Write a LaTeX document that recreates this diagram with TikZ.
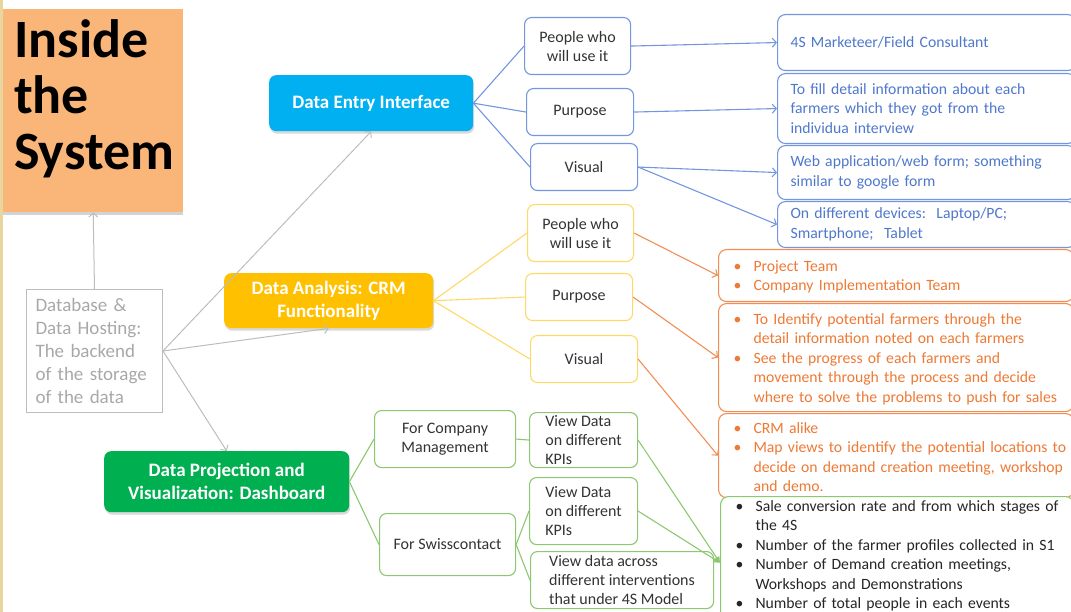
\documentclass[tikz,border=0pt]{standalone}
\usepackage{fontspec}
\setmainfont{Carlito}
\usetikzlibrary{arrows.meta,shadows}
\definecolor{strip}{HTML}{E9D59E}
\definecolor{titleor}{HTML}{FAB679}
\definecolor{cyanb}{HTML}{00B0F0}
\definecolor{yelb}{HTML}{FFC000}
\definecolor{greenb}{HTML}{00B050}
\definecolor{grayl}{HTML}{BDBDBD}
\definecolor{grayt}{HTML}{A8A8A8}
\definecolor{bluel}{HTML}{7396DE}
\definecolor{bluet}{HTML}{4F78CC}
\definecolor{yell}{HTML}{FFD966}
\definecolor{orl}{HTML}{F28E55}
\definecolor{ort}{HTML}{EE7A35}
\definecolor{grel}{HTML}{8CC870}
\definecolor{txt}{HTML}{333333}
\newcommand\bul[2][20pt]{\par\noindent\hangindent=#1\hangafter=1\makebox[#1][l]{\textbullet}#2\par}
\newcommand\raiseby{\vspace*{6pt}}
\hfuzz=400pt
\hbadness=10000
\tikzset{
  main/.style={rounded corners=7pt, text=white, align=center, anchor=north west,
    font=\fontsize{19}{23}\selectfont\bfseries, inner sep=0pt,
    drop shadow={shadow xshift=1pt, shadow yshift=-2.5pt, opacity=0.3}},
  lvtwo/.style={draw, rounded corners=7pt, fill=white, line width=1.1pt, align=center,
    anchor=north west, inner sep=0pt, text=txt, font=\fontsize{16}{19}\selectfont},
  lvleft/.style={lvtwo, align=left},
  rbox/.style={draw, rounded corners=8pt, fill=white, line width=1.1pt, align=left,
    anchor=north west, inner ysep=0pt, font=\fontsize{15.7}{19.5}\selectfont},
  gline/.style={draw=grayl, line width=1pt},
  garrow/.style={gline, -{Straight Barb[length=4pt,width=9pt]}},
  bline/.style={draw=bluel, line width=1.1pt},
  barrow/.style={bline, -{Straight Barb[length=4pt,width=9pt]}},
  yline/.style={draw=yell, line width=1.1pt},
  oarrow/.style={draw=orl, line width=1.1pt, -{Straight Barb[length=4pt,width=9pt]}},
  grline/.style={draw=grel, line width=1.1pt},
  grarrow/.style={grline, -{Triangle[length=6pt,width=6pt]}},
}
\begin{document}
\begin{tikzpicture}[x=1pt,y=-1pt]
\useasboundingbox (0,0) rectangle (1071,612);
\clip (0,0) rectangle (1071,612);
\fill[strip] (0,0) rectangle (2.5,612);

% title
\node[fill=titleor, anchor=north west, minimum width=180pt, minimum height=203pt, inner sep=0pt,
  drop shadow={shadow xshift=0pt, shadow yshift=-3pt, opacity=0.35}] (title) at (3,9) {};
\node[anchor=base west, align=left, inner sep=0pt, font=\fontsize{54}{56}\selectfont\bfseries] (titletext) at (14,170) {Inside\\the\\System};

% database
\node[draw=grayl, line width=1pt, anchor=north west, text width=118pt, inner xsep=9pt, inner ysep=0pt,
  minimum height=123pt, align=left, text=grayt, font=\fontsize{19}{23}\selectfont] (db) at (26,289)
  {Database \&\\Data Hosting:\\The backend\\of the storage\\of the data};

% main nodes
\node[main, fill=cyanb, minimum width=204pt, minimum height=56pt] (dei) at (269,75) {Data Entry Interface};
\node[main, fill=yelb, minimum width=209pt, minimum height=55pt] (da) at (224,273) {Data Analysis: CRM\\Functionality};
\node[main, fill=greenb, minimum width=245pt, minimum height=61pt] (dp) at (104,451) {Data Projection and\\Visualization: Dashboard};

% blue level 2
\node[lvtwo, draw=bluel, minimum width=106pt, minimum height=57pt] (bp) at (524,17) {People who\\will use it};
\node[lvtwo, draw=bluel, minimum width=107pt, minimum height=47pt] (bpu) at (526,88) {Purpose};
\node[lvtwo, draw=bluel, minimum width=107pt, minimum height=47pt] (bv) at (530,143) {Visual};
% yellow level 2
\node[lvtwo, draw=yell, minimum width=106pt, minimum height=57pt] (yp) at (527,204) {People who\\will use it};
\node[lvtwo, draw=yell, minimum width=107pt, minimum height=47pt] (ypu) at (525,273) {Purpose};
\node[lvtwo, draw=yell, minimum width=107pt, minimum height=47pt] (yv) at (530,335) {Visual};
% green level 2/3
\node[lvtwo, draw=grel, minimum width=141pt, minimum height=57pt] (gcm) at (374,410) {For Company\\Management};
\node[lvtwo, draw=grel, minimum width=136pt, minimum height=62pt] (gsc) at (379,513) {For Swisscontact};
\node[lvleft, draw=grel, minimum width=108pt, minimum height=55pt] (gv1) at (529,412) {View Data\\on different\\KPIs};
\node[lvleft, draw=grel, minimum width=108pt, minimum height=67pt] (gv2) at (529,477) {View Data\\on different\\KPIs};
\node[lvleft, draw=grel, minimum width=183pt, minimum height=57pt] (gva) at (530,551) {View data across\\different interventions\\that under 4S Model};

% blue right boxes
\node[rbox, draw=bluel, text=bluet, text width=272pt, inner xsep=13pt, minimum height=56pt] (b1) at (777,14) {4S Marketeer/Field Consultant};
\node[rbox, draw=bluel, text=bluet, text width=272pt, inner xsep=13pt, minimum height=70pt] (b2) at (777,73) {To fill detail information about each\\farmers which they got from the\\individua interview};
\node[rbox, draw=bluel, text=bluet, text width=272pt, inner xsep=13pt, minimum height=54pt] (b3) at (777,145) {Web application/web form; something\\similar to google form};
\node[rbox, draw=bluel, text=bluet, text width=272pt, inner xsep=13pt, minimum height=46pt] (b4) at (777,201) {On different devices:\ \ Laptop/PC;\\Smartphone;\ \ Tablet};

% orange right boxes
\node[rbox, draw=orl, text=ort, text width=325pt, inner xsep=15pt, minimum height=52pt] (o1) at (718,249)
  {\bul{\mbox{Project Team}}\bul{\mbox{Company Implementation Team}}\raiseby};
\node[rbox, draw=orl, text=ort, text width=325pt, inner xsep=15pt, minimum height=108pt] (o2) at (718,303)
  {\bul{\mbox{To Identify potential farmers through the}\newline\mbox{detail information noted on each farmers}}\bul{\mbox{See the progress of each farmers and}\newline\mbox{movement through the process and decide}\newline\mbox{where to solve the problems to push for sales}}\raiseby};
\node[rbox, draw=orl, text=ort, text width=325pt, inner xsep=15pt, minimum height=81pt] (o3) at (718,413)
  {\bul{\mbox{CRM alike}}\bul{\mbox{Map views to identify the potential locations to}\newline\mbox{decide on demand creation meeting, workshop}\newline\mbox{and demo.}}\raiseby};

% green right box
\node[rbox, draw=grel, text=black!85, text width=323pt, inner xsep=15pt,
  font=\fontsize{15.7}{19.4}\selectfont] (g) at (720,496)
  {\vspace*{-4.5pt}\bul{\mbox{Sale conversion rate and from which stages of}\newline\mbox{the 4S}}\bul{\mbox{Number of the farmer profiles collected in S1}}\bul{\mbox{Number of Demand creation meetings,}\newline\mbox{Workshops and Demonstrations}}\bul{\mbox{Number of total people in each events}}\vspace*{12pt}};

% gray connectors
\draw[garrow] (db.north) -- (title.south);
\draw[garrow] (db.east) -- (dei.south);
\draw[garrow] (db.east) -- (da.south);
\draw[garrow] (db.east) -- (dp.north);

% blue connectors
\draw[bline] (dei.east) -- (bp.west);
\draw[bline] (dei.east) -- (bpu.west);
\draw[bline] (dei.east) -- (bv.west);
\draw[barrow] (bp.east) -- (b1.west);
\draw[barrow] (bpu.east) -- (b2.west);
\draw[barrow] (bv.east) -- (b3.west);
\draw[barrow] (bv.east) -- (b4.west);

% yellow / orange connectors
\draw[yline] (da.east) -- (yp.west);
\draw[yline] (da.east) -- (ypu.west);
\draw[yline] (da.east) -- (yv.west);
\draw[oarrow] (yp.east) -- (o1.west);
\draw[oarrow] (ypu.east) -- (o2.west);
\draw[oarrow] (yv.east) -- (o3.west);

% green connectors
\draw[grline] (dp.east) -- (gcm.west);
\draw[grline] (dp.east) -- (gsc.west);
\draw[grline] (gcm.east) -- (gv1.west);
\draw[grline] (gsc.east) -- (gv2.west);
\draw[grline] (gsc.east) -- (gva.west);
\draw[grarrow] (gv1.east) -- ([yshift=-3pt]g.west);
\draw[grarrow] (gv2.east) -- ([yshift=-3pt]g.west);
\end{tikzpicture}
\end{document}
